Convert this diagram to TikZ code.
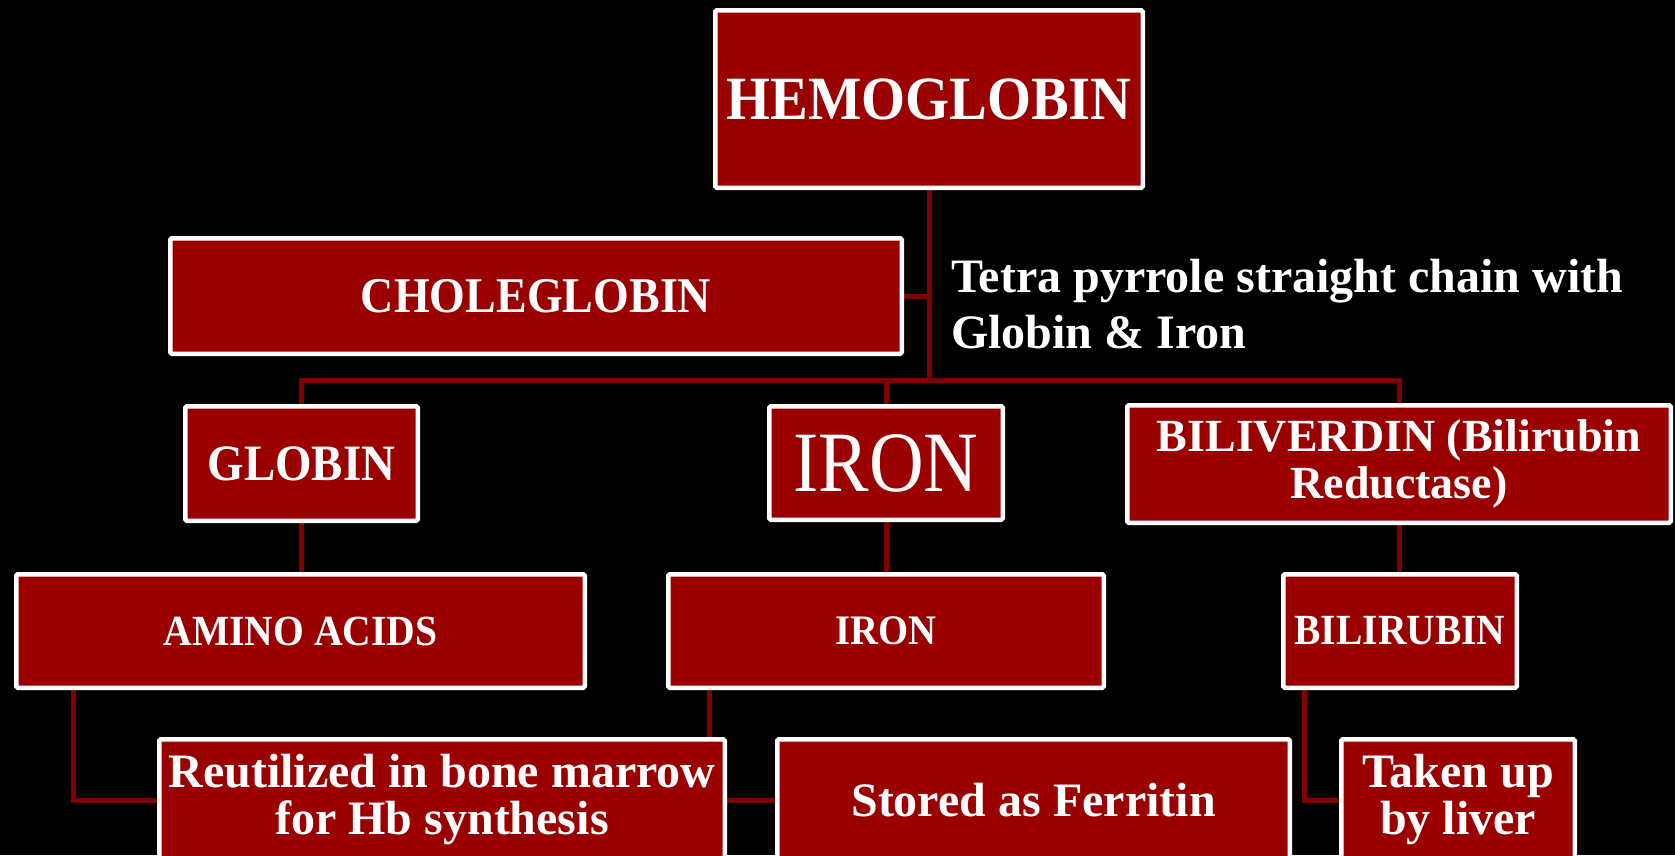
\documentclass[tikz,border=0pt]{standalone}
\usepackage{fontspec}
\setmainfont{Liberation Serif}
\newfontfamily\capsf[FakeStretch=0.92]{Liberation Serif}
\newfontfamily\ironf[FakeStretch=0.88]{Liberation Serif}
\pgfdeclarelayer{background}
\pgfsetlayers{background,main}
\definecolor{boxred}{RGB}{155,0,0}
\definecolor{linered}{RGB}{128,0,0}
\tikzset{
  box/.style={draw=white, line width=4.5pt, fill=boxred, text=white,
    rounded corners=1.5pt, inner sep=0pt, align=center},
  conn/.style={draw=linered, line width=5pt},
  fsz/.style={font=\fontsize{#1}{47}\selectfont\bfseries},
  csz/.style={font=\capsf\fontsize{#1}{47}\selectfont\bfseries}
}
\begin{document}
\begin{tikzpicture}[x=1pt,y=-1pt]
\path[use as bounding box] (0,0) rectangle (1675,855);
\begin{pgfonlayer}{background}
\fill[black] (0,0) rectangle (1675,855);
\end{pgfonlayer}
\clip (0,0) rectangle (1675,855);

\node[box, csz=61.5, minimum width=427.5pt, minimum height=177.5pt] (hemo) at (929,99) {HEMOGLOBIN};
\node[box, csz=50, minimum width=731.5pt, minimum height=115.5pt] (chole) at (536,296) {CHOLEGLOBIN};
\node[anchor=north west, inner sep=0pt, align=left, text=white,
  font=\fontsize{48}{56}\selectfont\bfseries] (tetra) at (951,259)
  {Tetra pyrrole straight chain with\\Globin \& Iron};

\node[box, csz=51, minimum width=232.5pt, minimum height=114.5pt] (globin) at (301.5,463.5) {GLOBIN};
\node[box, font=\ironf\fontsize{86}{90}\selectfont, minimum width=233.5pt, minimum height=113.5pt] (iron1) at (886,463) {IRON};
\node[box, fsz=46, minimum width=543.5pt, minimum height=117.5pt] (biliv) at (1399,464) {BILIVERDIN (Bilirubin\\Reductase)};

\node[box, csz=43, minimum width=568.5pt, minimum height=113.5pt] (amino) at (300.5,631) {AMINO ACIDS};
\node[box, csz=42, minimum width=435.5pt, minimum height=113.5pt] (iron2) at (886,631) {IRON};
\node[box, csz=43, minimum width=233.5pt, minimum height=113.5pt] (bilirubin) at (1400,631) {BILIRUBIN};

\node[box, fsz=48, minimum width=565.5pt, minimum height=121.5pt] (reut) at (442,800) {Reutilized in bone marrow\\for Hb synthesis};
\node[box, fsz=48, minimum width=512.5pt, minimum height=121.5pt] (stored) at (1033.5,800) {Stored as Ferritin};
\node[box, fsz=48, minimum width=233.5pt, minimum height=121.5pt] (taken) at (1458,800) {Taken up\\by liver};

\coordinate (bus) at (0,380);
\coordinate (ax) at (73,0);
\coordinate (ix) at (709,0);
\coordinate (bx) at (1304,0);

\begin{pgfonlayer}{background}
\draw[conn] (hemo.south) -- (hemo.south |- bus);
\draw[conn] (chole.east) -- (chole.east -| hemo.south);
\draw[conn] (globin.north) -- (globin.north |- bus) -| (biliv.north);
\draw[conn] (iron1.north) -- (iron1.north |- bus);
\draw[conn] (globin.south) -- (globin.south |- amino.north);
\draw[conn] (iron1.south) -- (iron2.north);
\draw[conn] (biliv.south) -- (biliv.south |- bilirubin.north);
\draw[conn] (amino.south -| ax) |- (reut.west);
\draw[conn] (iron2.south -| ix) |- (stored.west);
\draw[conn] (bilirubin.south -| bx) |- (taken.west);
\end{pgfonlayer}
\end{tikzpicture}
\end{document}
